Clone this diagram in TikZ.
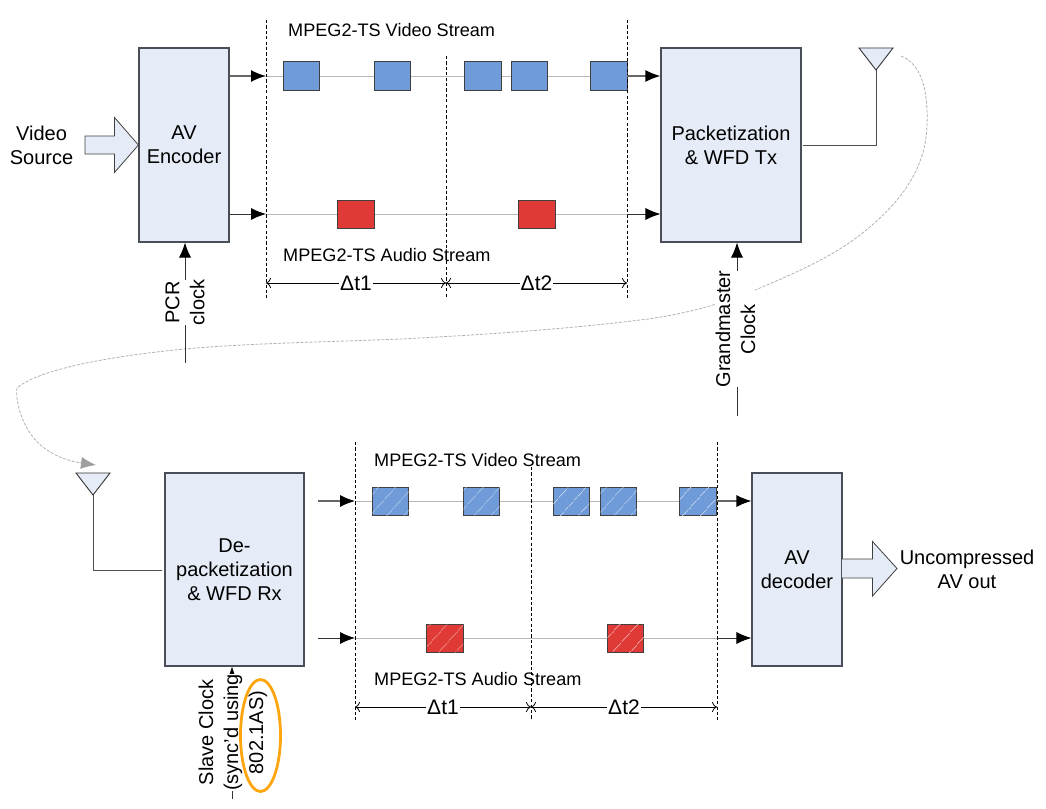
\documentclass[tikz,border=0pt]{standalone}
\usepackage{fontspec}
\setmainfont{Liberation Sans}
\usetikzlibrary{arrows.meta,patterns.meta,calc}
\definecolor{boxfill}{HTML}{E6ECF7}
\definecolor{boxline}{HTML}{4A4F57}
\definecolor{vidblue}{HTML}{6F9BD9}
\definecolor{audred}{HTML}{E03A36}
\definecolor{curvegray}{HTML}{B0B0B0}
\definecolor{halo}{HTML}{FFA50F}
\tikzset{
  x=1pt,y=-1pt,
  block/.style={draw=boxline,line width=1.1pt,fill=boxfill,inner sep=0pt,align=center,
    font=\fontsize{20}{23.8}\selectfont},
  plainlabel/.style={inner sep=0pt,align=center,font=\fontsize{20}{23.8}\selectfont},
  streamcap/.style={inner sep=0pt,font=\fontsize{18.1}{22}\selectfont,anchor=west},
  rotlabel/.style={fill=white,inner sep=0pt,rotate=90,align=center,font=\fontsize{20}{25}\selectfont},
  packet/.style={draw=black!75,line width=1pt,minimum width=36.5pt,minimum height=28pt,inner sep=0pt},
  vpk/.style={packet,fill=vidblue},
  apk/.style={packet,fill=audred},
  hatched/.style={postaction={pattern={Lines[angle=48,distance=13pt,line width=.4pt]},pattern color=white!55!vidblue}},
  hatchedr/.style={postaction={pattern={Lines[angle=48,distance=13pt,line width=.4pt]},pattern color=white!50!audred}},
  flow/.style={draw=black!80,line width=.9pt,-{Latex[length=15pt,width=12pt,color=black]}},
  heavyflow/.style={flow,draw=black!60,line width=1.4pt},
  streamline/.style={draw=black!28,line width=1pt},
  limit/.style={draw=black,line width=.8pt,dash pattern=on 3.2pt off 2.2pt},
  spanline/.style={draw=black,line width=.8pt,{To[length=5pt,width=10pt]}-{To[length=5pt,width=10pt]}},
  spanlabel/.style={fill=white,inner sep=1pt,font=\fontsize{21}{23}\selectfont},
  bigarrow/.style={draw=black!75,line width=.8pt,fill=boxfill,line join=miter},
  wire/.style={draw=boxline,line width=.9pt},
  aerial/.style={draw=black!80,line width=.9pt,fill=boxfill,line join=miter},
  radio/.style={draw=curvegray,line width=.8pt,dash pattern=on 3pt off 1.5pt,-{Latex[length=15pt,width=12pt,color=curvegray!90!black]}},
}
\begin{document}
\begin{tikzpicture}
\useasboundingbox (0,0) rectangle (1046,808);
% free ends
\coordinate (tA) at (266,20); \coordinate (tAb) at (266,298);
\coordinate (tB) at (446,56); \coordinate (tBb) at (446,298);
\coordinate (tC) at (627,20); \coordinate (tCb) at (627,298);
\coordinate (bA) at (355,442); \coordinate (bAb) at (355,720);
\coordinate (bB) at (531,467); \coordinate (bBb) at (531,720);
\coordinate (bC) at (717,442); \coordinate (bCb) at (717,720);
\coordinate (tvL) at (266,76); \coordinate (tvR) at (627,76);
\coordinate (taL) at (266,214); \coordinate (taR) at (627,214);
\coordinate (bvL) at (355,501); \coordinate (bvR) at (717,501);
\coordinate (baL) at (355,638); \coordinate (baR) at (717,638);
\coordinate (pcrEnd) at (185,363);
\coordinate (gmEnd) at (737,416);
\coordinate (slaveEnd) at (232,799);
\coordinate (txStart) at (901,56);
\coordinate (rxEnd) at (96,465);
\coordinate (txWire) at (803,145);
\coordinate (rxWire) at (162,570);
\coordinate (bvIn) at (318,501);
\coordinate (baIn) at (318,638);

% wireless link
\draw[radio] (txStart) .. controls (925,65) and (928,100) .. (927,125)
  .. controls (926,165) and (905,200) .. (860,235)
  .. controls (830,258) and (795,273) .. (760,288)
  .. controls (725,303) and (690,313) .. (648,319)
  .. controls (570,329) and (480,335) .. (400,339)
  .. controls (330,342) and (250,343) .. (185,349)
  .. controls (120,355) and (40,368) .. (17,388)
  .. controls (15,405) and (25,428) .. (33,437)
  .. controls (42,449) and (60,460) .. (rxEnd);

% main blocks
\node[block,minimum width=90pt,minimum height=194pt] (enc) at (184,145) {AV\\Encoder};
\node[block,minimum width=140pt,minimum height=194pt] (pkt) at (731,145) {Packetization\\\&\ WFD Tx};
\node[block,minimum width=139pt,minimum height=193pt] (dep) at (234.5,569.5) {De-\\packetization\\\&\ WFD Rx};
\node[block,minimum width=90pt,minimum height=193pt] (dec) at (797,569.5) {AV\\decoder};

% stream base lines
\draw[streamline] (tvL) -- (tvR);
\draw[streamline] (taL) -- (taR);
\draw[streamline] (bvL) -- (bvR);
\draw[streamline] (baL) -- (baR);

% packets, top
\node[vpk] (v1) at (301.5,76) {};
\node[vpk] (v2) at (392.5,76) {};
\node[vpk] (v3) at (483,76) {};
\node[vpk] (v4) at (529.5,76) {};
\node[vpk] (v5) at (609,76) {};
\node[apk] (a1) at (356,214) {};
\node[apk] (a2) at (537,214) {};
% packets, bottom
\node[vpk,hatched] (w1) at (390.5,501) {};
\node[vpk,hatched] (w2) at (481.5,501) {};
\node[vpk,hatched] (w3) at (571.5,501) {};
\node[vpk,hatched] (w4) at (618.5,501) {};
\node[vpk,hatched] (w5) at (698,501) {};
\node[apk,hatchedr] (r1) at (445,638) {};
\node[apk,hatchedr] (r2) at (625.5,638) {};

% time boundaries
\draw[limit] (tA) -- (tAb);
\draw[limit] (tB) -- (tBb);
\draw[limit] (tC) -- (tCb);
\draw[limit] (bA) -- (bAb);
\draw[limit] (bB) -- (bBb);
\draw[limit] (bC) -- (bCb);

% stream arrows
\draw[heavyflow] (enc.east |- tvL) -- (tvL);
\draw[flow] (enc.east |- taL) -- (taL);
\draw[heavyflow] (tvR) -- (pkt.west |- tvR);
\draw[flow] (taR) -- (pkt.west |- taR);
\draw[heavyflow,line width=1.1pt] (bvIn) -- (bvL);
\draw[flow] (baIn) -- (baL);
\draw[heavyflow,line width=1.1pt] (bvR) -- (dec.west |- bvR);
\draw[flow] (baR) -- (dec.west |- baR);

% stream captions
\node[streamcap] (c1) at (288,30) {MPEG2-TS Video Stream};
\node[streamcap] (c2) at (283,255) {MPEG2-TS Audio Stream};
\node[streamcap] (c3) at (374,460) {MPEG2-TS Video Stream};
\node[streamcap] (c4) at (374,679) {MPEG2-TS Audio Stream};

% spans
\coordinate (s1) at (266,283); \coordinate (s2) at (446,283); \coordinate (s3) at (627,283);
\coordinate (s4) at (355,707); \coordinate (s5) at (531,707); \coordinate (s6) at (717,707);
\draw[spanline] (s1) -- node[spanlabel] (d1) {Δt1} (s2);
\draw[spanline] (s2) -- node[spanlabel] (d2) {Δt2} (s3);
\draw[spanline] (s4) -- node[spanlabel] (d3) {Δt1} (s5);
\draw[spanline] (s5) -- node[spanlabel] (d4) {Δt2} (s6);

% block arrows
\draw[bigarrow] (85,136) -- (114.5,136) -- (114.5,117.5) -- (enc.west) -- (114.5,172.5) -- (114.5,154) -- (85,154) -- cycle;
\draw[bigarrow] (842,559) -- (872.5,559) -- (872.5,541.5) -- (897,568.5) -- (872.5,596) -- (872.5,578) -- (842,578);
\node[plainlabel] (src) at (41.5,145) {Video\\Source};
\node[plainlabel] (out) at (967,569) {Uncompressed\\AV out};

% antennas
\draw[aerial] (859,48) -- (893,48) -- (876,70) -- cycle;
\coordinate (txTip) at (876,70);
\draw[wire] (txWire) -| (txTip);
\draw[aerial] (76,473) -- (110,473) -- (93,495) -- cycle;
\coordinate (rxTip) at (93,495);
\draw[wire] (rxWire) -| (rxTip);

% clocks
\draw[flow] (pcrEnd) -- (pcrEnd |- enc.south);
\node[rotlabel] (pcr) at (185,302.5) {PCR\\clock};
\draw[flow] (gmEnd) -- (gmEnd |- pkt.south);
\node[rotlabel] (gm) at (735.5,329) {Grandmaster\\Clock};
\draw[flow] (slaveEnd) -- (slaveEnd |- dep.south);
\node[rotlabel] (slave) at (233,732.5) {Slave Clock\\(sync'd using\\802.1AS)};
\draw[draw=halo,line width=2.8pt] (260.5,735.5) ellipse [x radius=20,y radius=56];
\end{tikzpicture}
\end{document}
